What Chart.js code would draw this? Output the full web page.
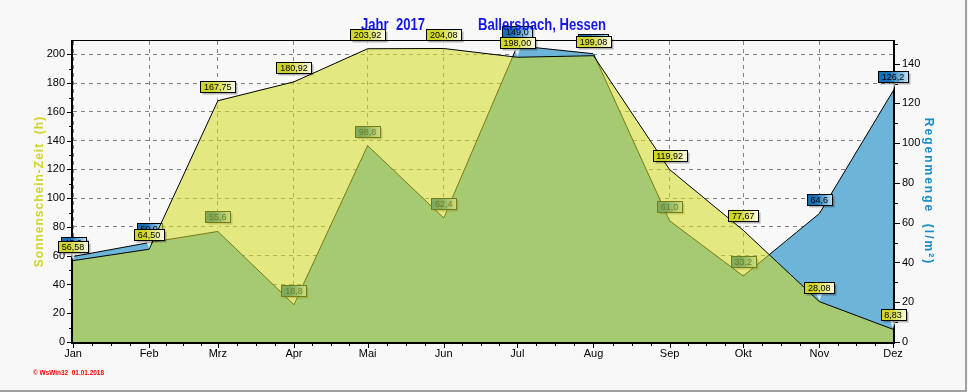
<!DOCTYPE html>
<html>
<head>
<meta charset="utf-8">
<script src="https://cdn.jsdelivr.net/npm/chart.js@4.4.1/dist/chart.umd.min.js"></script>
<style>
  html, body { margin: 0; padding: 0; background: #f8f8f8; }
  #wrap { position: relative; width: 968px; height: 392px; }
</style>
</head>
<body>
<div id="wrap"><canvas id="grafico" width="968" height="392"></canvas></div>
<script>
// Monate und Tag im Jahr (Monatsanfang)
const monate    = ['Jan', 'Feb', 'Mrz', 'Apr', 'Mai', 'Jun', 'Jul', 'Aug', 'Sep', 'Okt', 'Nov', 'Dez'];
const monatsTag = [0, 31, 59, 90, 120, 151, 181, 212, 243, 273, 304, 334];

// Sonnenschein-Zeit (h) und Regenmenge (l/m²)
const sonnenschein = [56.58, 64.50, 167.75, 180.92, 203.92, 204.08, 198.00, 199.08, 119.92, 77.67, 28.08, 8.83];
const regen        = [43.0, 50.0, 55.6, 18.8, 98.8, 62.4, 149.0, 145.0, 61.0, 33.2, 64.6, 126.2];

const linksTicks  = [0, 20, 40, 60, 80, 100, 120, 140, 160, 180, 200];
const rechtsTicks = [0, 20, 40, 60, 80, 100, 120, 140];

const SCHRIFT = '"Liberation Sans", Arial, sans-serif';
const deZahl = (v, d) => v.toFixed(d).replace('.', ',');

function zeichneLabel(ctx, x, y, text, farbeA, farbeB) {
  ctx.font = '9px ' + SCHRIFT;
  const w = Math.round(ctx.measureText(text).width) + 7;
  const h = 11;
  const bx = Math.round(x - w / 2) + 0.5;
  const by = Math.round(y - 9 - h) + 0.5;
  // Zeiger
  ctx.fillStyle = 'rgba(255,255,255,0.75)';
  ctx.beginPath();
  ctx.moveTo(x - 3, by + h);
  ctx.lineTo(x + 3, by + h);
  ctx.lineTo(x, y - 1);
  ctx.closePath();
  ctx.fill();
  // Schatten
  ctx.fillStyle = 'rgba(0,0,0,0.28)';
  ctx.fillRect(bx + 2, by + 2, w, h);
  const g = ctx.createLinearGradient(bx, 0, bx + w, 0);
  g.addColorStop(0, farbeA);
  g.addColorStop(0.35, farbeA);
  g.addColorStop(1, farbeB);
  ctx.fillStyle = g;
  ctx.fillRect(bx, by, w, h);
  ctx.strokeStyle = '#000';
  ctx.lineWidth = 1;
  ctx.strokeRect(bx, by, w, h);
  ctx.fillStyle = '#000';
  ctx.textAlign = 'center';
  ctx.textBaseline = 'middle';
  ctx.fillText(text, x, by + h / 2 + 0.5);
}

// schmaler Titeltext: auf Zielbreite gestaucht
function schmalText(ctx, text, x, y, breite) {
  const w = ctx.measureText(text).width;
  ctx.save();
  ctx.translate(x, y);
  ctx.scale(breite / w, 1);
  ctx.fillText(text, 0, 0);
  ctx.restore();
}

const wertLabels = {
  id: 'wertLabels',
  afterDatasetDraw(chart, args) {
    const ds = chart.data.datasets[args.index];
    const ctx = chart.ctx;
    ctx.save();
    args.meta.data.forEach((pt, i) => {
      const text = deZahl(ds.werte[i], ds.stellen);
      zeichneLabel(ctx, pt.x, pt.y, text, ds.labelA, ds.labelB);
    });
    ctx.restore();
  }
};

const rahmen = {
  id: 'rahmen',
  beforeDatasetsDraw(chart) {
    const { ctx, chartArea: a, scales } = chart;
    ctx.save();
    ctx.fillStyle = '#000';
    // Achsen
    ctx.fillRect(a.left - 2, a.top - 1, a.right - a.left + 4, 1);
    ctx.fillRect(a.left - 2, a.top - 1, 2, a.bottom - a.top + 3);
    ctx.fillRect(a.right, a.top - 1, 2, a.bottom - a.top + 3);
    ctx.fillRect(a.left - 2, a.bottom, a.right - a.left + 4, 2);
    // Teilstriche links
    for (let v = 0; v <= 200; v += 10) {
      const y = Math.round(scales.yL.getPixelForValue(v));
      ctx.fillRect(a.left - (v % 20 ? 4 : 6), y, v % 20 ? 2 : 4, 1);
    }
    // Teilstriche rechts
    for (let v = 0; v <= 150; v += 10) {
      const y = Math.round(scales.yR.getPixelForValue(v));
      ctx.fillRect(a.right + 2, y, v % 20 ? 3 : 5, 1);
    }
    // Teilstriche unten
    for (let i = 0; i < monatsTag.length; i++) {
      const x = Math.round(scales.x.getPixelForValue(monatsTag[i]));
      ctx.fillRect(x, a.bottom + 2, 1, 4);
      if (i < monatsTag.length - 1) {
        const d = monatsTag[i + 1] - monatsTag[i];
        for (let k = 1; k < 4; k++) {
          const xm = Math.round(scales.x.getPixelForValue(monatsTag[i] + d * k / 4));
          ctx.fillRect(xm, a.bottom + 2, 1, 2);
        }
      }
    }
    ctx.restore();
  },
  afterDraw(chart) {
    const { ctx, chartArea: a } = chart;
    ctx.save();
    // Titel
    ctx.font = 'bold 16px ' + SCHRIFT;
    ctx.fillStyle = '#1515e8';
    ctx.textAlign = 'left';
    ctx.textBaseline = 'alphabetic';
    schmalText(ctx, 'Jahr  2017', 361, 30, 64);
    schmalText(ctx, 'Ballersbach, Hessen', 478, 30, 128);
    // Achsentitel links
    const mitte = (a.top + a.bottom) / 2;
    ctx.font = 'bold 12px ' + SCHRIFT;
    ctx.textAlign = 'center';
    ctx.textBaseline = 'middle';
    ctx.letterSpacing = '1px';
    ctx.fillStyle = '#d0d428';
    ctx.translate(40, mitte);
    ctx.rotate(-Math.PI / 2);
    ctx.fillText('Sonnenschein-Zeit  (h)', 0, 0);
    ctx.setTransform(1, 0, 0, 1, 0, 0);
    // Achsentitel rechts
    ctx.letterSpacing = '2px';
    ctx.fillStyle = '#1a8ac6';
    ctx.translate(928, mitte);
    ctx.rotate(Math.PI / 2);
    ctx.fillText('Regenmenge  (l/m²)', 0, 0);
    ctx.setTransform(1, 0, 0, 1, 0, 0);
    ctx.letterSpacing = '0px';
    // Fusszeile
    ctx.font = 'bold 7px ' + SCHRIFT;
    ctx.fillStyle = '#ff0000';
    ctx.textAlign = 'left';
    ctx.textBaseline = 'alphabetic';
    schmalText(ctx, '\u00a9 WsWin32  01.01.2018', 33, 375, 71);
    // Bildrand
    ctx.fillStyle = '#a0a0a0';
    ctx.fillRect(0, 390, 966, 2);
    ctx.fillRect(965, 0, 2, 392);
    ctx.restore();
  }
};

const punkte = werte => werte.map((v, i) => ({ x: monatsTag[i], y: v }));

new Chart(document.getElementById('grafico'), {
  type: 'line',
  data: {
    datasets: [
      {
        label: 'Sonnenschein',
        data: punkte(sonnenschein),
        werte: sonnenschein,
        stellen: 2,
        labelA: 'rgb(208,214,40)',
        labelB: 'rgb(252,252,236)',
        yAxisID: 'yL',
        order: 0,
        borderColor: '#000',
        borderWidth: 1,
        backgroundColor: 'rgba(211,219,33,0.56)',
        fill: 'origin',
        pointRadius: 0,
        tension: 0
      },
      {
        label: 'Regen',
        data: punkte(regen),
        werte: regen,
        stellen: 1,
        labelA: 'rgb(22,112,182)',
        labelB: 'rgb(196,228,246)',
        yAxisID: 'yR',
        order: 1,
        borderColor: '#000',
        borderWidth: 1,
        backgroundColor: 'rgb(108,180,216)',
        fill: 'origin',
        pointRadius: 0,
        tension: 0
      }
    ]
  },
  options: {
    responsive: false,
    devicePixelRatio: 1,
    animation: false,
    layout: { padding: { top: 41, left: 0, right: 0, bottom: 0 } },
    plugins: { legend: { display: false }, tooltip: { enabled: false } },
    scales: {
      x: {
        type: 'linear',
        min: 0,
        max: 334,
        afterBuildTicks: s => { s.ticks = monatsTag.map(v => ({ value: v })); },
        afterFit: s => { s.height = 50; },
        ticks: {
          autoSkip: false,
          maxRotation: 0,
          padding: 5,
          color: '#000',
          font: { family: SCHRIFT, size: 11 },
          callback: v => monate[monatsTag.indexOf(v)]
        },
        grid: { color: '#858585', lineWidth: 1, drawTicks: false },
        border: { display: false, dash: [4, 4] }
      },
      yL: {
        type: 'linear',
        position: 'left',
        min: 0,
        max: 209.3,
        afterBuildTicks: s => { s.ticks = linksTicks.map(v => ({ value: v })); },
        afterFit: s => { s.width = 73; },
        ticks: { padding: 8, color: '#000', font: { family: SCHRIFT, size: 11 } },
        grid: { color: '#858585', lineWidth: 1, drawTicks: false },
        border: { display: false, dash: [4, 4] }
      },
      yR: {
        type: 'linear',
        position: 'right',
        min: 0,
        max: 151.4,
        afterBuildTicks: s => { s.ticks = rechtsTicks.map(v => ({ value: v })); },
        afterFit: s => { s.width = 75; },
        ticks: { padding: 9, color: '#000', font: { family: SCHRIFT, size: 11 } },
        grid: { display: false, drawTicks: false },
        border: { display: false }
      }
    }
  },
  plugins: [rahmen, wertLabels]
});
</script>
</body>
</html>
